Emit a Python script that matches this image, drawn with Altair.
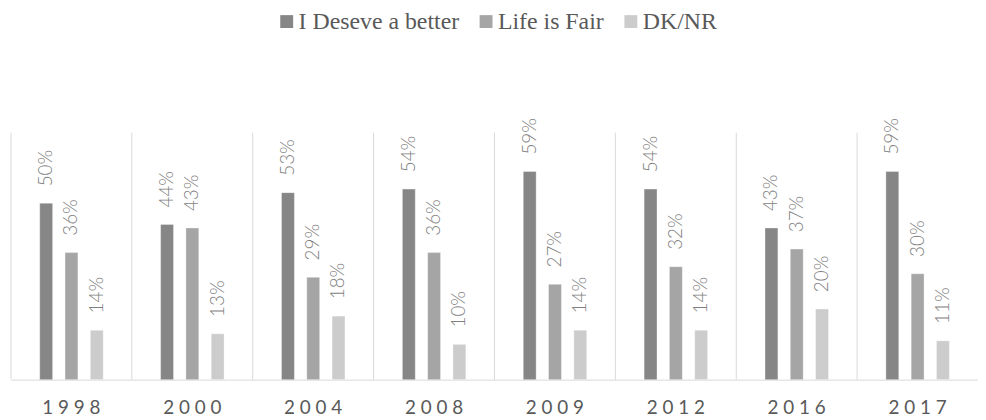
import altair as alt
import pandas as pd

years = ["1998", "2000", "2004", "2008", "2009", "2012", "2016", "2017"]
series = ["I Deseve a better", "Life is Fair", "DK/NR"]
deserve = [50, 44, 53, 54, 59, 54, 43, 59]
fair = [36, 43, 29, 36, 27, 32, 37, 30]
dknr = [14, 13, 18, 10, 14, 14, 20, 11]
colors = ["#868686", "#a5a5a5", "#cccccc"]

rows = []
for s, vals in zip(series, [deserve, fair, dknr]):
    for y, v in zip(years, vals):
        rows.append({"year": y, "series": s, "value": v / 100, "label": f"{v}%"})
df = pd.DataFrame(rows)
sep = pd.DataFrame({"year": years})

W, H = 975, 249
LABEL_FONT = "Lato"

x = alt.X("year:N", sort=years, title=None,
          scale=alt.Scale(paddingInner=0, paddingOuter=0),
          axis=alt.Axis(labelAngle=0, ticks=False, domainColor="#d9d9d9",
                        domainWidth=1, labelFont=LABEL_FONT, labelFontSize=19,
                        labelFontWeight=400, labelColor="#595959", labelPadding=19,
                        bandPosition=0.5, labelAlign="center",
                        labelExpr="join(split(datum.label, ''), ' ')"))
xoff = alt.XOffset("series:N", sort=series,
                   scale=alt.Scale(paddingInner=0.49, paddingOuter=0, range=[29, 93]))
y = alt.Y("value:Q", scale=alt.Scale(domain=[0, 0.7], nice=False, zero=True),
          axis=None)

rules = alt.Chart(sep).mark_rule(color="#d9d9d9", strokeWidth=1).encode(
    x=alt.X("year:N", sort=years, bandPosition=0, title=None),
    y=alt.value(0), y2=alt.value(H))

bars = alt.Chart(df).mark_bar(stroke="#ffffff", strokeOpacity=0.35, strokeWidth=1).encode(
    x=x, xOffset=xoff, y=y,
    color=alt.Color("series:N", sort=series,
                    scale=alt.Scale(domain=series, range=colors),
                    legend=alt.Legend(title=None, orient="none", legendX=266, legendY=-124,
                                      direction="horizontal", symbolType="square",
                                      symbolSize=169, symbolStrokeWidth=0,
                                      labelFont="Liberation Serif", labelFontSize=24,
                                      labelColor="#595959", labelOffset=0,
                                      labelLimit=400, columnPadding=15)))

texts = alt.Chart(df).mark_text(angle=270, align="left", baseline="middle", dx=17,
                                font=LABEL_FONT, fontSize=19, fontWeight=300,
                                color="#7f7f7f").encode(
    x=x, xOffset=xoff, y=y, text="label:N")

chart = alt.layer(bars, texts, rules).properties(
    width=W, height=H,
    autosize=alt.AutoSizeParams(type="none"),
    padding={"left": 3, "top": 124, "right": 0, "bottom": 38},
).configure_view(stroke=None).configure_axis(grid=False)

chart.save("out.html", embed_options={"renderer": "svg", "actions": False})
